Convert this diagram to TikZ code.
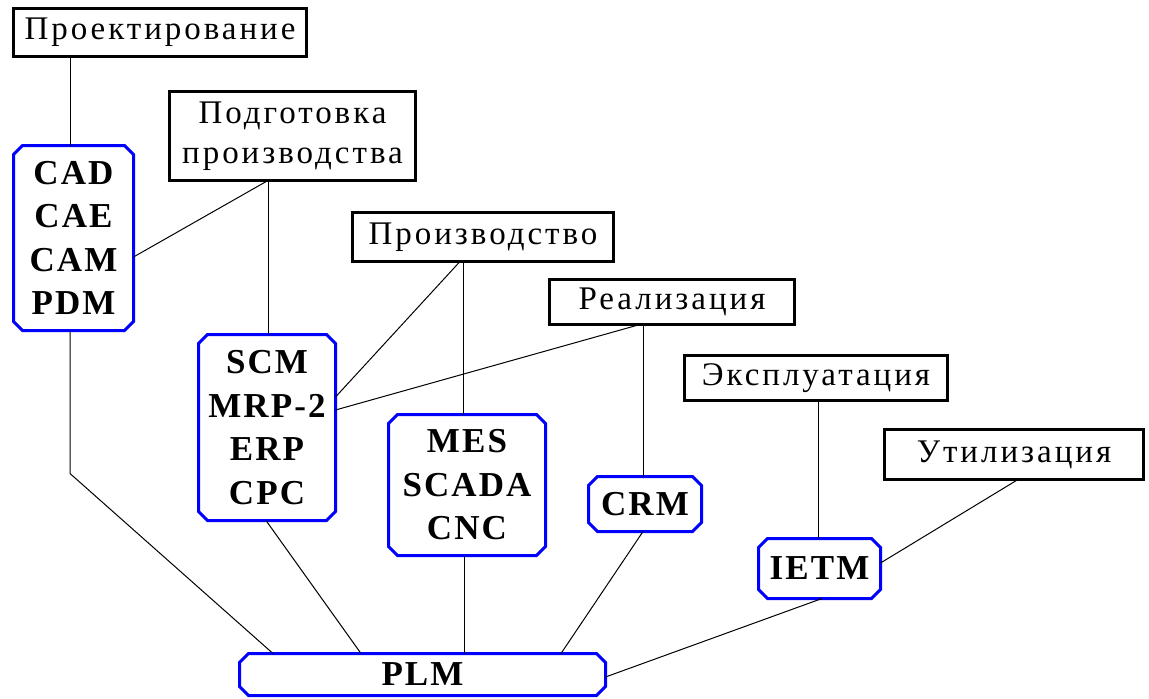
\documentclass[tikz,border=0pt]{standalone}
\usepackage{fontspec}
\setmainfont{Liberation Serif}
\newfontfamily\spacedserif[LetterSpace=9]{Liberation Serif}
\newfontfamily\spacedbold[LetterSpace=6]{Liberation Serif Bold}
\definecolor{sysblue}{RGB}{0,0,255}
\tikzset{
  stage/.style={draw=black, line width=3pt, rectangle, inner sep=0pt, outer sep=0pt,
    align=center, font=\spacedserif\fontsize{33}{40}\selectfont},
  sys/.style={draw=none, rectangle, inner sep=0pt, outer sep=0pt,
    align=center, font=\spacedbold\fontsize{35}{43.5}\selectfont},
  chamf/.style={draw=sysblue, line width=3pt, line join=miter},
  link/.style={draw=black, line width=1pt}
}
\begin{document}
\begin{tikzpicture}[x=1pt,y=-1pt]
\useasboundingbox (0,0) rectangle (1149,699);
% stage boxes
\node[stage, minimum width=293pt, minimum height=48pt] (proj) at (160,32.5) {Проектирование};
\node[stage, minimum width=246pt, minimum height=89pt] (podg) at (292.5,136) {Подготовка\\производства};
\node[stage, minimum width=261pt, minimum height=49pt] (proizv) at (483,237) {Производство};
\node[stage, minimum width=245pt, minimum height=45pt] (real) at (672,302) {Реализация};
\node[stage, minimum width=263pt, minimum height=45pt] (expl) at (816,378) {Эксплуатация};
\node[stage, minimum width=259pt, minimum height=50pt] (util) at (1014,454.5) {Утилизация};
% system boxes
\node[sys, minimum width=120pt, minimum height=185pt] (cad) at (73.5,238) {CAD\\CAE\\CAM\\PDM};
\node[sys, minimum width=137pt, minimum height=186pt] (scm) at (267,427.5) {SCM\\MRP-2\\ERP\\CPC};
\node[sys, minimum width=157pt, minimum height=141pt] (mes) at (467,485) {MES\\SCADA\\CNC};
\node[sys, minimum width=113pt, minimum height=55pt] (crm) at (645,504) {CRM};
\node[sys, minimum width=122pt, minimum height=60pt] (ietm) at (819.5,568.5) {IETM};
\node[sys, minimum width=366pt, minimum height=42pt] (plm) at (422.5,674.5) {PLM};
\foreach \n in {cad,scm,mes,crm,ietm,plm}{
  \draw[chamf] ([xshift=9pt]\n.north west) -- ([xshift=-9pt]\n.north east)
    -- ([yshift=-9pt]\n.north east) -- ([yshift=9pt]\n.south east)
    -- ([xshift=-9pt]\n.south east) -- ([xshift=9pt]\n.south west)
    -- ([yshift=9pt]\n.south west) -- ([yshift=-9pt]\n.north west) -- cycle;
}
% connectors
\draw[link] ([xshift=-3.5pt]cad.north) -- ([xshift=-3.5pt]cad.north |- proj.south);
\draw[link] ([xshift=1pt]scm.north) -- ([xshift=1pt]scm.north |- podg.south);
\draw[link] ([xshift=-24.5pt]podg.south) -- ([yshift=-19pt]cad.east);
\draw[link] ([xshift=-4pt]mes.north) -- ([xshift=-4pt]mes.north |- proizv.south);
\draw[link] ([xshift=-23pt]proizv.south) -- ([yshift=30.5pt]scm.east);
\draw[link] ([xshift=-32pt]real.south) -- ([yshift=17.5pt]scm.east);
\draw[link] ([xshift=-2pt]crm.north) -- ([xshift=-2pt]crm.north |- real.south);
\draw[link] ([xshift=-1.5pt]ietm.north) -- ([xshift=-1.5pt]ietm.north |- expl.south);
\draw[link] ([xshift=4pt]util.south) -- ([yshift=5.5pt]ietm.east);
\draw[link] ([xshift=-3.5pt]cad.south) -- ++(0,143) -- ([xshift=33.5pt]plm.north west);
\draw[link] ([xshift=-1pt]scm.south) -- ([xshift=121.5pt]plm.north west);
\draw[link] ([xshift=-3pt]mes.south) -- ([xshift=-3pt]mes.south |- plm.north);
\draw[link] ([xshift=-2pt]crm.south) -- ([xshift=321.5pt]plm.north west);
\draw[link] ([xshift=2.5pt]ietm.south) -- ([yshift=-2.5pt]plm.east);
\end{tikzpicture}
\end{document}
